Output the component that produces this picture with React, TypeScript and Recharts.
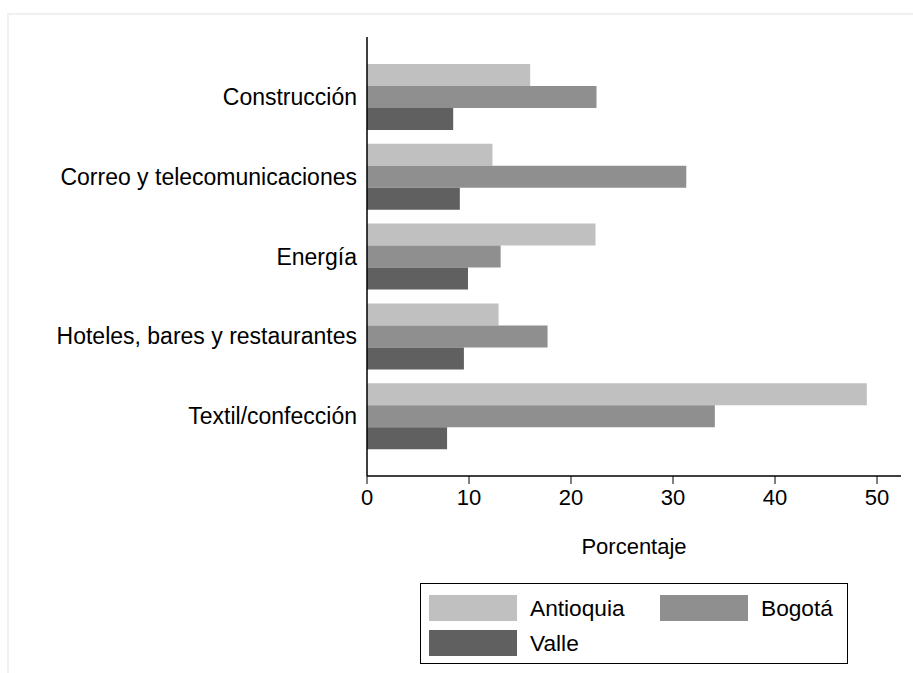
import React from "react";
import { BarChart, Bar, XAxis, YAxis, Legend } from "recharts";

const categories = [
  "Construcción",
  "Correo y telecomunicaciones",
  "Energía",
  "Hoteles, bares y restaurantes",
  "Textil/confección",
];
const antioquia = [16.0, 12.3, 22.4, 12.9, 49.0];
const bogota = [22.5, 31.3, 13.1, 17.7, 34.1];
const valle = [8.45, 9.1, 9.9, 9.5, 7.85];
const xTicks = [0, 10, 20, 30, 40, 50];

const seriesNames = ["Antioquia", "Bogotá", "Valle"];
const seriesKeys = ["antioquia", "bogota", "valle"];
const seriesColors = ["#c0c0c0", "#8f8f8f", "#606060"];

const data = categories.map((c, i) => ({
  name: c,
  antioquia: antioquia[i],
  bogota: bogota[i],
  valle: valle[i],
}));

const FONT = "'Liberation Sans', Arial, Helvetica, sans-serif";
const FS = 22;
const FS_Y = 23;
const FS_LEG = 22.7;

const LegendBox = () => {
  const sw = { width: 88, height: 26, display: "inline-block" } as React.CSSProperties;
  const item = (idx: number, left: number, top: number) => (
    <div
      key={idx}
      style={{ position: "absolute", left, top, display: "flex", alignItems: "center", height: 26 }}
    >
      <span style={{ ...sw, background: seriesColors[idx] }} />
      <span style={{ marginLeft: 13, fontSize: FS_LEG, fontFamily: FONT, color: "#000", lineHeight: "26px" }}>
        {seriesNames[idx]}
      </span>
    </div>
  );
  return (
    <div
      style={{
        position: "absolute",
        left: 0,
        top: 0,
        width: 428,
        height: 81,
        border: "1px solid #000",
        boxSizing: "border-box",
        background: "#fff",
      }}
    >
      {item(0, 8, 11)}
      {item(1, 239, 11)}
      {item(2, 8, 46)}
    </div>
  );
};

export default function App() {
  return (
    <div
      style={{
        position: "absolute",
        left: 0,
        top: 0,
        width: 913,
        height: 673,
        background: "#fff",
        overflow: "hidden",
        fontFamily: FONT,
      }}
    >
      <div
        style={{
          position: "absolute",
          left: 7,
          top: 13,
          width: 1000,
          height: 1000,
          borderTop: "2px solid #f0f0f0",
          borderLeft: "2px solid #f0f0f0",
        }}
      />
      <div style={{ position: "absolute", left: 0, top: 0 }}>
        <BarChart
          width={913}
          height={673}
          data={data}
          layout="vertical"
          margin={{ top: 37, right: 12, bottom: 100, left: 0 }}
          barGap={0}
          barCategoryGap={7}
        >
          <XAxis
            type="number"
            domain={[0, 52.35]}
            ticks={xTicks}
            allowDataOverflow
            height={97}
            tickSize={8}
            tickMargin={5}
            stroke="#000"
            tick={{ fill: "#000", fontSize: FS, fontFamily: FONT }}
            tickLine={{ stroke: "#000" }}
            axisLine={{ stroke: "#000", strokeWidth: 1.5 }}
            label={{
              value: "Porcentaje",
              position: "insideBottom",
              offset: 19,
              fill: "#000",
              fontSize: FS,
              fontFamily: FONT,
            }}
          />
          <YAxis
            type="category"
            dataKey="name"
            width={367}
            padding={{ top: 20, bottom: 20 }}
            tickSize={0}
            tickMargin={10}
            tickLine={false}
            axisLine={{ stroke: "#000", strokeWidth: 1.5 }}
            tick={{ fill: "#000", fontSize: FS_Y, fontFamily: FONT }}
            interval={0}
          />
          {seriesKeys.map((k, i) => (
            <Bar key={k} dataKey={k} name={seriesNames[i]} fill={seriesColors[i]} isAnimationActive={false} />
          ))}
          <Legend
            content={() => <LegendBox />}
            wrapperStyle={{
              position: "absolute",
              left: 420,
              top: 583,
              width: 0,
              height: 0,
              overflow: "visible",
              bottom: "auto",
              right: "auto",
            }}
          />
        </BarChart>
      </div>
    </div>
  );
}
